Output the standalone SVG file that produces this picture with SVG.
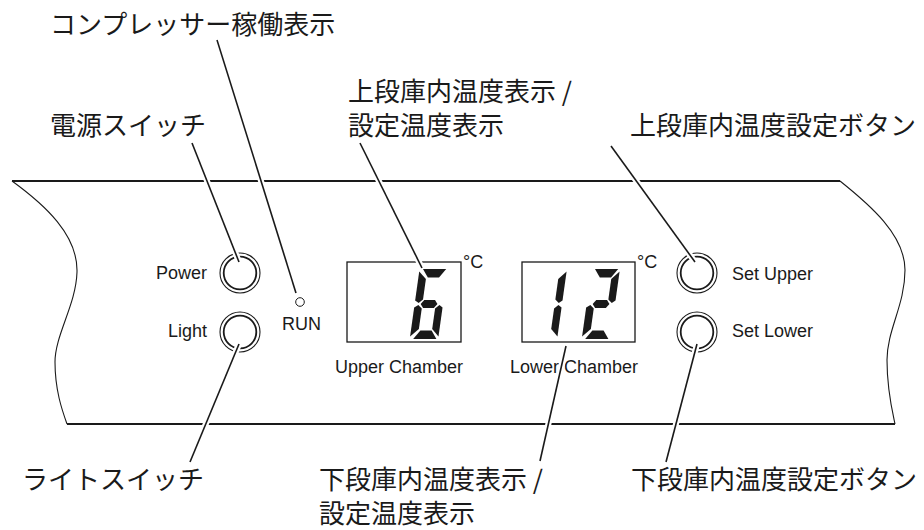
<svg xmlns="http://www.w3.org/2000/svg" width="924" height="530" viewBox="0 0 924 530">
<style>
.jp{font-family:"Noto Sans CJK JP","Noto Sans",sans-serif;font-size:26px;fill:#1a1a1a}
.en{font-family:"Liberation Sans",Arial,sans-serif;font-size:18px;fill:#1a1a1a}
.edge{fill:none;stroke:#1a1a1a;stroke-width:1.1}
.bold{fill:none;stroke:#1a1a1a;stroke-width:2.2}
.ro{fill:none;stroke:#1a1a1a;stroke-width:1.1}
.ri{fill:none;stroke:#1a1a1a;stroke-width:1.8}
.box{fill:none;stroke:#1a1a1a;stroke-width:1.3}
.seg{fill:#1a1a1a}
.halo{stroke:#fff;stroke-width:6;fill:none}
.lead{stroke:#1a1a1a;stroke-width:1.6;fill:none}
</style>
<defs>
<path id="sa" d="M3.5,0 L30.5,0 L23.5,8.5 L10.5,8.5 Z"/>
<path id="sb" d="M32.5,2.5 L32.5,31.5 L28.5,34 L24,30.5 L24,10 Z"/>
<path id="sc" d="M32.5,38.5 L32.5,67.5 L24,60 L24,39.5 L28.5,36 Z"/>
<path id="sd" d="M10.5,61.5 L23.5,61.5 L30.5,70 L3.5,70 Z"/>
<path id="se" d="M-0.5,38.5 L4,36 L8.5,39.5 L8.5,60 L-0.5,67.5 Z"/>
<path id="sf" d="M-0.5,2.5 L8.5,10 L8.5,30.5 L4,34 L-0.5,31.5 Z"/>
<path id="sg" d="M6.5,35 L10,31 L22.5,31 L26,35 L22.5,39 L10,39 Z"/>
</defs>
<rect width="924" height="530" fill="#fff"/>

<g id="panel">
<path class="edge" d="M12,181 C45,205 78,235 77,272 C76,305 55,335 55,362 C55,390 62,410 67,424"/>
<path class="edge" d="M840,181 C870,205 905,235 905,270 C905,305 887,330 887,360 C887,390 892,410 895,424"/>
<line class="bold" x1="12" y1="181" x2="840" y2="181"/>
<line class="bold" x1="67" y1="424" x2="895" y2="424"/>
</g>

<g id="power-button">
<circle class="ro" cx="240" cy="273" r="20"/>
<circle class="ri" cx="240" cy="273" r="16.3"/>
<text class="en" x="207" y="279" text-anchor="end">Power</text>
</g>
<g id="light-button">
<circle class="ro" cx="240" cy="332" r="20"/>
<circle class="ri" cx="240" cy="332" r="16.3"/>
<text class="en" x="207" y="337" text-anchor="end">Light</text>
</g>
<g id="run-led">
<circle cx="300" cy="302" r="4.3" fill="#fff" stroke="#1a1a1a" stroke-width="1"/>
<text class="en" x="282" y="330">RUN</text>
</g>
<g id="upper-display">
<rect class="box" x="347" y="262" width="114" height="80"/>
<g class="seg" transform="translate(420,269) skewX(-8) scale(0.86,1)">
<use href="#sa"/><use href="#sf"/><use href="#sg"/><use href="#se"/><use href="#sd"/><use href="#sc"/>
</g>
<text class="en" x="463" y="268">°C</text>
<text class="en" x="335" y="373">Upper Chamber</text>
</g>
<g id="lower-display">
<rect class="box" x="522" y="262" width="113" height="80"/>
<g class="seg" transform="translate(539,269) skewX(-8) scale(0.86,1)">
<use href="#sb"/><use href="#sc"/>
</g>
<g class="seg" transform="translate(592,269) skewX(-8) scale(0.86,1)">
<use href="#sa"/><use href="#sb"/><use href="#sg"/><use href="#se"/><use href="#sd"/>
</g>
<text class="en" x="637" y="268">°C</text>
<text class="en" x="510" y="373">Lower Chamber</text>
</g>
<g id="set-upper-button">
<circle class="ro" cx="697" cy="273" r="20"/>
<circle class="ri" cx="697" cy="273" r="16.3"/>
<text class="en" x="732" y="280">Set Upper</text>
</g>
<g id="set-lower-button">
<circle class="ro" cx="697" cy="332" r="20"/>
<circle class="ri" cx="697" cy="332" r="16.3"/>
<text class="en" x="732" y="337">Set Lower</text>
</g>

<g id="label-compressor"><text class="jp" x="50" y="34">コンプレッサー稼働表示</text></g>
<g id="label-power"><text class="jp" x="50" y="135">電源スイッチ</text></g>
<g id="label-upper-display"><text class="jp" x="348" y="101">上段庫内温度表示 /</text><text class="jp" x="348" y="135">設定温度表示</text></g>
<g id="label-set-upper"><text class="jp" x="630" y="135">上段庫内温度設定ボタン</text></g>
<g id="label-light"><text class="jp" x="22" y="489">ライトスイッチ</text></g>
<g id="label-lower-display"><text class="jp" x="319" y="489">下段庫内温度表示 /</text><text class="jp" x="319" y="523">設定温度表示</text></g>
<g id="label-set-lower"><text class="jp" x="631" y="489">下段庫内温度設定ボタン</text></g>

<g id="connectors">
<g class="halo">
<line x1="217" y1="40" x2="296" y2="293"/>
<line x1="192" y1="143" x2="239" y2="262"/>
<line x1="360" y1="143" x2="422" y2="268"/>
<line x1="611" y1="146" x2="695" y2="262"/>
<line x1="239" y1="344" x2="190" y2="462"/>
<line x1="566" y1="346" x2="540" y2="461"/>
<line x1="697" y1="344" x2="666" y2="462"/>
</g>
<g class="lead">
<line x1="217" y1="40" x2="296" y2="293"/>
<line x1="192" y1="143" x2="239" y2="262"/>
<line x1="360" y1="143" x2="422" y2="268"/>
<line x1="611" y1="146" x2="695" y2="262"/>
<line x1="239" y1="344" x2="190" y2="462"/>
<line x1="566" y1="346" x2="540" y2="461"/>
<line x1="697" y1="344" x2="666" y2="462"/>
</g>
</g>
</svg>
